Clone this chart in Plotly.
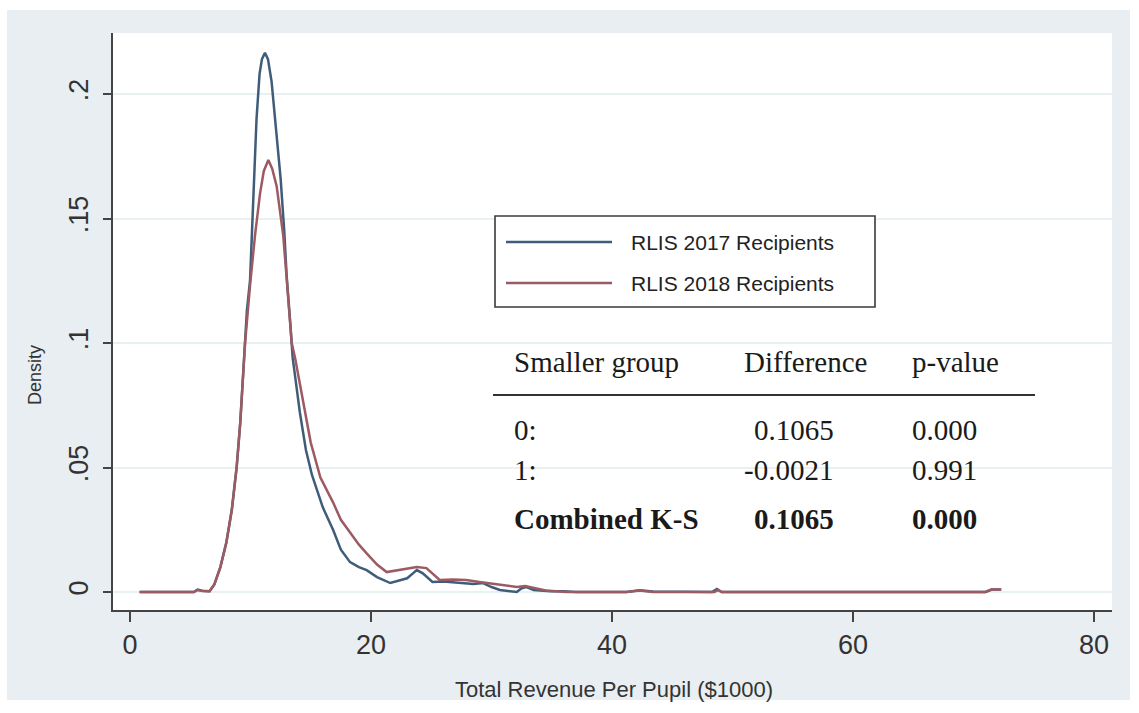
import plotly.graph_objects as go

# Kernel density estimates of total revenue per pupil ($1000)
x_2017 = [0.8, 5.3, 5.6, 6.0, 6.6, 7.0, 7.5, 8.0, 8.45, 8.85, 9.15, 9.55, 9.7, 9.96,
          10.25, 10.5, 10.75, 10.95, 11.2, 11.45, 11.75, 12.0, 12.3, 12.5, 12.8, 13.0,
          13.3, 13.5, 14.1, 14.6, 15.1, 16.0, 16.85, 17.5, 18.26, 19.0, 19.64, 20.5,
          21.6, 22.4, 23.0, 23.5, 23.8, 24.3, 25.1, 26.0, 27.4, 28.5, 29.3, 30.0, 30.7,
          32.1, 32.5, 32.9, 33.5, 34.9, 36.0, 37.0, 41.2, 42.3, 43.4, 48.3, 48.7, 49.1,
          71.0, 71.5, 72.3]
dens_2017 = [0, 0, 0.001, 0.0005, 0.0003, 0.003, 0.010, 0.020, 0.033, 0.050, 0.068, 0.100,
             0.113, 0.125, 0.163, 0.190, 0.208, 0.214, 0.2165, 0.214, 0.205, 0.192, 0.176,
             0.166, 0.145, 0.127, 0.108, 0.094, 0.072, 0.057, 0.047, 0.034, 0.025, 0.017,
             0.012, 0.010, 0.0088, 0.006, 0.0036, 0.0048, 0.0055, 0.0076, 0.0088, 0.0075,
             0.0040, 0.0042, 0.0036, 0.0032, 0.0036, 0.002, 0.0008, 0.0, 0.0015, 0.002,
             0.0008, 0.0003, 0.0003, 0, 0, 0.0007, 0.0002, 0, 0.0012, 0, 0, 0.001, 0.001]

x_2018 = [0.8, 5.3, 5.6, 6.0, 6.6, 7.0, 7.5, 8.0, 8.45, 8.85, 9.15, 9.55, 9.96, 10.37,
          10.79, 11.1, 11.48, 11.8, 12.17, 12.72, 13.0, 13.42, 13.7, 14.5, 15.0, 15.8,
          16.85, 17.5, 18.26, 19.0, 19.64, 20.5, 21.3, 22.4, 23.1, 23.8, 24.6, 25.7,
          26.8, 27.9, 29.0, 29.6, 30.5, 31.3, 32.1, 32.8, 33.5, 34.5, 36.2, 41.2, 42.3,
          43.4, 48.5, 48.8, 49.1, 71.0, 71.5, 72.3]
dens_2018 = [0, 0, 0.0008, 0.0004, 0.0003, 0.003, 0.010, 0.020, 0.033, 0.050, 0.068, 0.100,
             0.123, 0.143, 0.160, 0.169, 0.1735, 0.170, 0.163, 0.143, 0.126, 0.100, 0.094,
             0.074, 0.060, 0.046, 0.036, 0.029, 0.024, 0.019, 0.0155, 0.011, 0.008, 0.0088,
             0.0092, 0.010, 0.0096, 0.0048, 0.005, 0.0048, 0.0040, 0.0036, 0.0028, 0.0024,
             0.002, 0.0024, 0.0016, 0.0006, 0.0, 0, 0.0006, 0, 0, 0.0008, 0, 0, 0.001, 0.001]

series_names = ["RLIS 2017 Recipients", "RLIS 2018 Recipients"]
series_colors = ["#3f5d7a", "#9c5a63"]

x_ticks = [0, 20, 40, 60, 80]
y_ticks = [0, 0.05, 0.1, 0.15, 0.2]
y_tick_text = ["0", ".05", ".1", ".15", ".2"]

ks_header = ["Smaller group", "Difference", "p-value"]
ks_rows = [["0:", "0.1065", "0.000"],
           ["1:", "-0.0021", "0.991"],
           ["Combined K-S", "0.1065", "0.000"]]

W, H = 1139, 713
L, R, T, B = 113, 1112, 33, 610          # plot area in pixels
PW, PH = R - L, B - T


def px(x):
    return (x - L) / PW


def py(y):
    return (B - y) / PH


fig = go.Figure()
fig.add_trace(go.Scatter(x=x_2017, y=dens_2017, mode="lines", name=series_names[0],
                         line=dict(color=series_colors[0], width=2.5), showlegend=False))
fig.add_trace(go.Scatter(x=x_2018, y=dens_2018, mode="lines", name=series_names[1],
                         line=dict(color=series_colors[1], width=2.5), showlegend=False))

shapes = []
annotations = []

# white page strips around the grey graph region
for x0, x1, y0, y1 in [(0, W, 0, 10), (0, W, 700, H), (0, 7, 0, H), (1130, W, 0, H)]:
    shapes.append(dict(type="rect", xref="paper", yref="paper",
                       x0=px(x0), x1=px(x1), y0=py(y1), y1=py(y0),
                       fillcolor="white", line=dict(width=0), layer="above"))

# legend box
shapes.append(dict(type="rect", xref="paper", yref="paper",
                   x0=px(495), x1=px(875), y0=py(307), y1=py(216),
                   fillcolor="white", line=dict(color="#3a3a3a", width=1.6)))
for i, (name, col) in enumerate(zip(series_names, series_colors)):
    yy = 242 + i * 41
    shapes.append(dict(type="line", xref="paper", yref="paper",
                       x0=px(506), x1=px(612), y0=py(yy), y1=py(yy),
                       line=dict(color=col, width=2.5)))
    annotations.append(dict(xref="paper", yref="paper", x=px(629), y=py(yy),
                            text=name, showarrow=False, xanchor="left", yanchor="middle",
                            font=dict(family="Liberation Sans", size=21, color="#222222")))

# K-S test table
col_x = [512, 742, 910]
serif = "Liberation Serif"
for j, h in enumerate(ks_header):
    annotations.append(dict(xref="paper", yref="paper", x=px(col_x[j]), y=py(362),
                            text=h, showarrow=False, xanchor="left", yanchor="middle",
                            font=dict(family=serif, size=29, color="#1a1a1a")))
shapes.append(dict(type="line", xref="paper", yref="paper",
                   x0=px(493), x1=px(1035), y0=py(395), y1=py(395),
                   line=dict(color="#333333", width=2)))
row_y = [430, 470, 519]
row_x = [[512, 752, 910], [512, 742, 910], [512, 752, 910]]
for r, row in enumerate(ks_rows):
    bold = r == len(ks_rows) - 1
    for j, cell in enumerate(row):
        annotations.append(dict(xref="paper", yref="paper", x=px(row_x[r][j]), y=py(row_y[r]),
                                text=f"<b>{cell}</b>" if bold else cell,
                                showarrow=False, xanchor="left", yanchor="middle",
                                font=dict(family=serif, size=29, color="#1a1a1a")))

# axis titles
annotations.append(dict(xref="paper", yref="paper", x=px(614), y=py(689),
                        text="Total Revenue Per Pupil ($1000)", showarrow=False,
                        xanchor="center", yanchor="middle",
                        font=dict(family="Liberation Sans", size=22, color="#333333")))
annotations.append(dict(xref="paper", yref="paper", x=px(35), y=py(375),
                        text="Density", showarrow=False, textangle=-90,
                        xanchor="center", yanchor="middle",
                        font=dict(family="Liberation Sans", size=18, color="#333333")))

x_lo = 0 - (130 - L) / 12.05
x_hi = 80 + (R - 1094) / 12.05
y_lo = -(B - 592) / 2490
y_hi = 0.2 + (94 - T) / 2490

fig.update_layout(
    width=W, height=H,
    margin=dict(l=L, r=W - R, t=T, b=H - B),
    paper_bgcolor="#e8eef1",
    plot_bgcolor="white",
    shapes=shapes,
    annotations=annotations,
    showlegend=False,
    xaxis=dict(range=[x_lo, x_hi], tickvals=x_ticks, showgrid=False, zeroline=False,
               showline=True, linecolor="#444444", linewidth=1.6,
               ticks="outside", ticklen=10, tickwidth=1.6, tickcolor="#444444",
               tickfont=dict(family="Liberation Sans", size=27, color="#333333")),
    yaxis=dict(range=[y_lo, y_hi], tickvals=y_ticks, ticktext=y_tick_text, tickangle=-90,
               showgrid=True, gridcolor="#e9f0f2", gridwidth=1.5, zeroline=False,
               showline=True, linecolor="#444444", linewidth=1.6,
               ticks="outside", ticklen=8, tickwidth=1.6, tickcolor="#444444",
               ticklabelstandoff=4,
               tickfont=dict(family="Liberation Sans", size=27, color="#333333")),
)

fig.write_html("out.html")
